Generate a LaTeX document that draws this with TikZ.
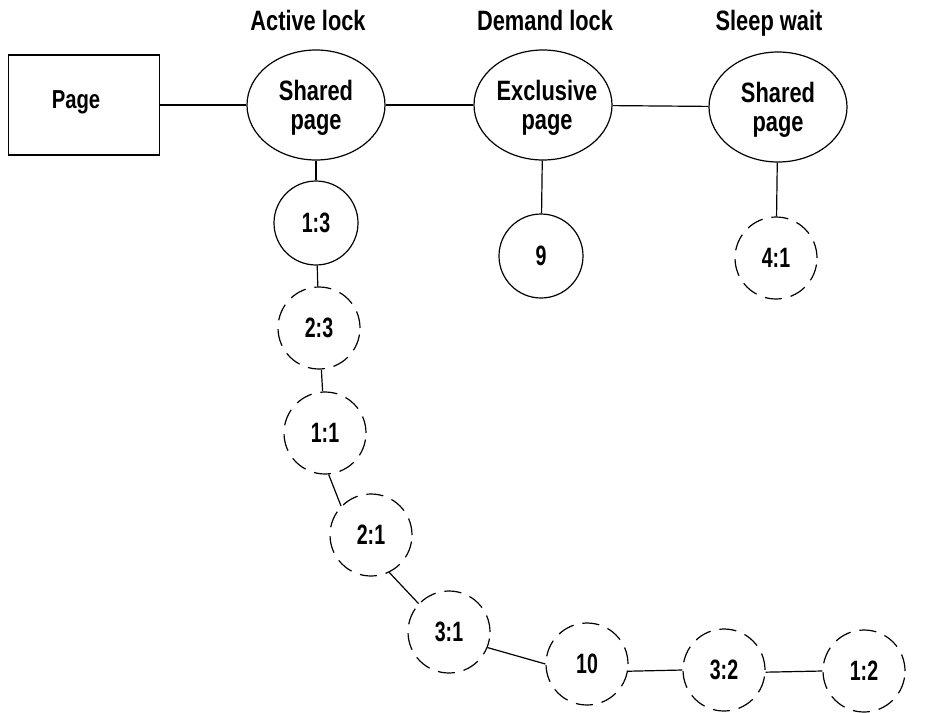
\documentclass[tikz,border=0pt]{standalone}
\usepackage{fontspec}
\setmainfont{Liberation Sans}[FakeStretch=0.78]
\newfontfamily\numfont{Liberation Sans}[FakeStretch=0.7]
\usetikzlibrary{shapes.geometric}

\tikzset{
  lbl/.style={font=\fontsize{28}{29}\selectfont\bfseries, inner sep=0pt},
  numlbl/.style={font=\fontsize{28}{29}\numfont\bfseries, inner sep=0pt},
  pagebox/.style={draw, line width=1.8pt, minimum width=151pt, minimum height=100pt, inner sep=0pt},
  lockell/.style={draw, ellipse, line width=1.2pt, minimum width=138pt, minimum height=110pt, inner sep=0pt},
  locktext/.style={lbl, align=center},
  holder/.style={draw, circle, line width=1.2pt, minimum size=84pt, inner sep=0pt, numlbl},
  waiter/.style={draw, circle, line width=1.2pt, dash pattern=on 17pt off 9pt, minimum size=82pt, inner sep=0pt, numlbl},
  link/.style={line width=1.2pt},
  head/.style={lbl, anchor=base}
}

\begin{document}
\begin{tikzpicture}[x=1pt,y=-1pt]
\useasboundingbox (0,0) rectangle (941,712);

% column headings
\node[head] (hActive) at (308,30) {Active lock};
\node[head] (hDemand) at (545,30) {Demand lock};
\node[head] (hSleep)  at (769,30) {Sleep wait};

% page box and its lock entries
\node[pagebox] (page) at (84,105) {};
\node[lbl, font=\fontsize{26}{28}\selectfont\bfseries, anchor=base] (pagetxt) at (76,108) {Page};

\node[lockell] (sh1) at (316,105) {};
\node[lockell] (ex)  at (543,105) {};
\node[lockell] (sh2) at (778,107) {};
\node[locktext] (sh1txt) at (316,108) {Shared\\page};
\node[locktext] (extxt)  at (547,108) {Exclusive\\page};
\node[locktext] (sh2txt) at (778,110) {Shared\\page};

% lock holders (solid) and waiters (dashed)
\node[holder] (n13) at (316,223) {1:3};
\node[waiter] (n23) at (319,328) {2:3};
\node[waiter] (n11) at (325,433) {1:1};
\node[waiter] (n21) at (371,535) {2:1};
\node[waiter] (n31) at (449,632) {3:1};
\node[waiter] (n10) at (587,664) {10};
\node[waiter] (n32) at (724,670) {3:2};
\node[waiter] (n12) at (864,671) {1:2};
\node[holder] (n9)  at (541,256) {9};
\node[waiter] (n41) at (776,258) {4:1};

% chain connectors
\draw[link] (page) -- (sh1);
\draw[link] (sh1) -- (ex);
\draw[link] (ex) -- (sh2);
\draw[link] (sh1) -- (n13);
\draw[link] (n13) -- (n23);
\draw[link] (n23) -- (n11);
\draw[link] (n11.-85) -- (n21.136);
\draw[link] (n21.-64) -- (n31.137);
\draw[link] (n31.-22) -- (n10.west);
\draw[link] (n10.-10) -- (n32.west);
\draw[link] (n32.-3) -- (n12.west);
\draw[link] (ex) -- (n9);
\draw[link] (sh2) -- (n41);
\end{tikzpicture}
\end{document}
